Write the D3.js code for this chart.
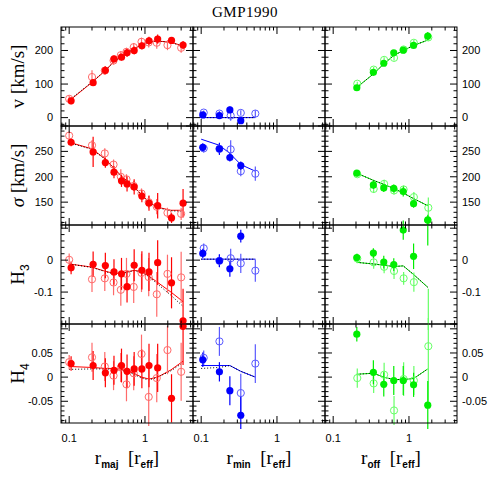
<!DOCTYPE html>
<html>
<head>
<meta charset="utf-8">
<script src="https://cdn.jsdelivr.net/npm/d3@7/dist/d3.min.js"></script>
<style>
  body { margin: 0; background: #fff; }
  text { fill: #000; }
</style>
</head>
<body>
<svg id="chart" width="491" height="491"></svg>
<script>
// ---- data ----
const title = 'GMP1990';

// major axis (red)
const rMajFilled = [0.106, 0.207, 0.30, 0.39, 0.49, 0.58, 0.72, 0.91, 1.13, 1.47, 2.24, 3.18];
const rMajOpen   = [0.100, 0.200, 0.295, 0.385, 0.48, 0.57, 0.71, 0.90, 1.12, 1.43, 1.98, 3.00];
const rMajModel  = [0.10, 0.20, 0.30, 0.40, 0.50, 0.60, 0.72, 0.90, 1.13, 1.47, 2.20, 3.18];

const vMajFilled    = [50, 104, 141, 175, 180, 193, 200, 214, 229, 234, 230, 216];
const vMajFilledErr = [10, 10, 12, 10, 10, 12, 12, 10, 12, 14, 10, 12];
const vMajOpen      = [56, 121, 140, 170, 186, 196, 210, 226, 224, 223, 216, 208];
const vMajOpenErr   = [10, 20, 12, 12, 12, 12, 12, 12, 15, 18, 15, 15];
const vMajModel     = [50, 105, 140, 170, 183, 195, 205, 218, 226, 228, 225, 213];
const vMajModelDot  = [52, 106, 141, 169, 182, 194, 204, 217, 225, 228, 224, 212];

const sMajFilled    = [268, 249, 228, 209, 192, 186, 180, 162, 148, 143, 119, 148];
const sMajFilledErr = [8, 30, 10, 12, 12, 15, 15, 12, 15, 25, 10, 28];
const sMajOpen      = [281, 262, 246, 224, 200, 195, 182, 167, 150, 141, 129, 127];
const sMajOpenErr   = [8, 10, 10, 10, 15, 10, 10, 10, 12, 15, 10, 12];
const sMajModel     = [268, 255, 235, 215, 200, 190, 180, 165, 150, 140, 134, 134];
const sMajModelDot  = [267, 254, 234, 214, 199, 189, 179, 164, 149, 139, 133, 132];

const h3MajFilled    = [-0.024, -0.013, -0.017, -0.037, -0.043, -0.083, -0.016, -0.032, -0.037, -0.008, -0.071, -0.19];
const h3MajFilledErr = [0.02, 0.04, 0.04, 0.04, 0.05, 0.05, 0.05, 0.06, 0.06, 0.07, 0.08, 0.1];
const h3MajOpen      = [0.001, -0.060, -0.057, -0.070, -0.093, -0.043, -0.084, -0.040, -0.053, -0.107, -0.043, -0.054];
const h3MajOpenErr   = [0.02, 0.04, 0.04, 0.04, 0.05, 0.05, 0.05, 0.06, 0.06, 0.07, 0.06, 0.08];
const h3MajModel     = [-0.012, -0.022, -0.035, -0.042, -0.040, -0.036, -0.032, -0.036, -0.050, -0.070, -0.100, -0.130];
const h3MajModelDot  = [-0.012, -0.023, -0.036, -0.044, -0.042, -0.037, -0.033, -0.037, -0.052, -0.075, -0.110, -0.145];

const h4MajFilled    = [0.028, 0.024, 0.009, 0.014, 0.024, 0.012, 0.017, 0.017, 0.024, 0.019, -0.044, 0.105];
const h4MajFilledErr = [0.015, 0.03, 0.03, 0.03, 0.035, 0.035, 0.035, 0.04, 0.045, 0.05, 0.05, 0.08];
const h4MajOpen      = [0.031, 0.041, 0.022, 0.003, 0.020, -0.015, 0.008, 0.048, -0.041, -0.002, 0.056, 0.011];
const h4MajOpenErr   = [0.015, 0.03, 0.03, 0.03, 0.03, 0.035, 0.035, 0.04, 0.06, 0.05, 0.05, 0.06];
const h4MajModel     = [0.022, 0.020, 0.018, 0.018, 0.016, 0.012, 0.008, 0.000, -0.004, 0.000, 0.015, 0.033];
const h4MajModelDot  = [0.016, 0.017, 0.017, 0.016, 0.014, 0.010, 0.006, -0.002, -0.006, 0.000, 0.013, 0.030];

// minor axis (blue)
const rMinFilled = [0.105, 0.174, 0.239, 0.333];
const rMinOpen   = [0.108, 0.174, 0.245, 0.333, 0.518];
const rMinModel  = [0.10, 0.174, 0.239, 0.333, 0.518];

const vMinFilled    = [8, 6, 23, -9];
const vMinFilledErr = [6, 8, 10, 8];
const vMinOpen      = [15, 12, 6, 14, 12];
const vMinOpenErr   = [6, 8, 15, 8, 10];
const vMinModel     = [0, 0, 0, 0, 0];

const sMinFilled    = [258, 255, 238, 222];
const sMinFilledErr = [8, 12, 8, 8];
const sMinOpen      = [256, 255, 254, 211, 206];
const sMinOpenErr   = [8, 10, 18, 10, 14];
const sMinModel     = [274, 262, 246, 224, 211];

const h3MinFilled    = [0.021, -0.002, -0.027, 0.075];
const h3MinFilledErr = [0.015, 0.02, 0.025, 0.02];
const h3MinOpen      = [0.037, -0.002, 0.006, -0.010, -0.033];
const h3MinOpenErr   = [0.015, 0.02, 0.03, 0.03, 0.035];
const h3MinModel     = [0.003, 0.003, 0.003, 0.003, 0.003];

const h4MinFilled    = [0.036, 0.011, -0.028, -0.079];
const h4MinFilledErr = [0.015, 0.02, 0.03, 0.04];
const h4MinOpen      = [0.040, 0.074, null, -0.033, 0.028];
const h4MinOpenErr   = [0.015, 0.03, 0, 0.04, 0.04];
const h4MinModel     = [0.024, 0.024, 0.024, 0.012, 0.000];
const h4MinModelDot  = [0.018, 0.020, 0.024, 0.012, 0.000];

// offset axis (green)
const rOffFilled = [0.205, 0.339, 0.465, 0.63, 0.84, 1.15, 1.77];
const rOffOpen   = [0.208, 0.342, 0.47, 0.635, 0.85, 1.16, 1.80];
const rOffModel  = [0.205, 0.339, 0.465, 0.63, 0.84, 1.15, 1.77];

const vOffFilled    = [89, 135, 162, 193, 201, 215, 243];
const vOffFilledErr = [6, 8, 8, 8, 8, 8, 12];
const vOffOpen      = [101, 143, 172, 178, 203, 223, 239];
const vOffOpenErr   = [6, 8, 8, 8, 8, 8, 10];
const vOffModel     = [90, 130, 160, 185, 200, 215, 231];

const sOffFilled    = [207, 184, 178, 177, 171, 147, 115];
const sOffFilledErr = [5, 8, 8, 8, 10, 8, 10];
const sOffOpen      = [205, 176, 186, 173, 175, 160, 139];
const sOffOpenErr   = [5, 8, 8, 8, 8, 10, 20];
const sOffModel     = [207, 193, 185, 177, 168, 157, 143];

const h3OffFilled    = [0.008, 0.022, -0.006, -0.014, 0.094, 0.012, 0.126];
const h3OffFilledErr = [0.012, 0.015, 0.02, 0.02, 0.03, 0.04, 0.08];
const h3OffOpen      = [0.005, -0.007, -0.021, -0.034, -0.057, -0.069, -0.25];
const h3OffOpenErr   = [0.015, 0.02, 0.02, 0.025, 0.02, 0.03, 0.16];
const h3OffModel     = [-0.007, -0.012, -0.016, -0.020, -0.018, -0.045, -0.085];

const h4OffFilled    = [0.089, 0.010, -0.015, -0.007, -0.007, -0.016, -0.058];
const h4OffFilledErr = [0.015, 0.025, 0.025, 0.03, 0.03, 0.025, 0.05];
const h4OffOpen      = [-0.002, -0.013, 0.005, -0.069, -0.004, -0.007, 0.064];
const h4OffOpenErr   = [0.02, 0.02, 0.025, 0.03, 0.035, 0.03, 0.115];
const h4OffModel     = [0.006, 0.008, 0.000, -0.005, -0.005, -0.003, 0.017];

// axes
const rowDomains = [[-25, 270], [105, 300], [-0.2, 0.11], [-0.095, 0.11]];
const rowMajorTicks = [[0, 100, 200], [150, 200, 250, 300], [-0.2, -0.1, 0, 0.1], [-0.05, 0, 0.05, 0.1]];
const rowMinorStep = [20, 10, 0.02, 0.01];
const rowTickLabels = [['0', '100', '200'], ['150', '200', '250'], ['-0.1', '0'], ['-0.05', '0', '0.05']];
const rowTickLabelValues = [[0, 100, 200], [150, 200, 250], [-0.1, 0], [-0.05, 0, 0.05]];
const xMajorTicks = [0.1, 1];
const xMinorTicks = [0.08, 0.09, 0.2, 0.3, 0.4, 0.5, 0.6, 0.7, 0.8, 0.9, 2, 3, 4];
const xTickLabels = ['0.1', '1'];

// ---- layout ----
const plotLeft = 61, plotTop = 27, colW = 132, rowH = 99;
const svg = d3.select('#chart');

const x = d3.scaleLog().domain([0.078, 4.3]).range([0, colW]);
const yScales = rowDomains.map((dom) => d3.scaleLinear().domain(dom).range([rowH, 0]));

const columns = [
  {
    color: '#ff0000', light: '#ff6a6a',
    rFilled: rMajFilled, rOpen: rMajOpen, rModel: rMajModel,
    rows: [
      {f: vMajFilled, fe: vMajFilledErr, o: vMajOpen, oe: vMajOpenErr, m: vMajModel, md: vMajModelDot},
      {f: sMajFilled, fe: sMajFilledErr, o: sMajOpen, oe: sMajOpenErr, m: sMajModel, md: sMajModelDot},
      {f: h3MajFilled, fe: h3MajFilledErr, o: h3MajOpen, oe: h3MajOpenErr, m: h3MajModel, md: h3MajModelDot},
      {f: h4MajFilled, fe: h4MajFilledErr, o: h4MajOpen, oe: h4MajOpenErr, m: h4MajModel, md: h4MajModelDot},
    ],
  },
  {
    color: '#0000ff', light: '#5a5aff',
    rFilled: rMinFilled, rOpen: rMinOpen, rModel: rMinModel,
    rows: [
      {f: vMinFilled, fe: vMinFilledErr, o: vMinOpen, oe: vMinOpenErr, m: vMinModel, md: vMinModel},
      {f: sMinFilled, fe: sMinFilledErr, o: sMinOpen, oe: sMinOpenErr, m: sMinModel, md: null},
      {f: h3MinFilled, fe: h3MinFilledErr, o: h3MinOpen, oe: h3MinOpenErr, m: h3MinModel, md: h3MinModel},
      {f: h4MinFilled, fe: h4MinFilledErr, o: h4MinOpen, oe: h4MinOpenErr, m: h4MinModel, md: h4MinModelDot},
    ],
  },
  {
    color: '#00ee00', light: '#66ff66',
    rFilled: rOffFilled, rOpen: rOffOpen, rModel: rOffModel,
    rows: [
      {f: vOffFilled, fe: vOffFilledErr, o: vOffOpen, oe: vOffOpenErr, m: vOffModel, md: vOffModel},
      {f: sOffFilled, fe: sOffFilledErr, o: sOffOpen, oe: sOffOpenErr, m: sOffModel, md: sOffModel},
      {f: h3OffFilled, fe: h3OffFilledErr, o: h3OffOpen, oe: h3OffOpenErr, m: h3OffModel, md: h3OffModel},
      {f: h4OffFilled, fe: h4OffFilledErr, o: h4OffOpen, oe: h4OffOpenErr, m: h4OffModel, md: h4OffModel},
    ],
  },
];

const toPoints = (rs, vs, es) => rs
  .map((r, i) => ({r: r, v: vs[i], e: es ? es[i] : 0}))
  .filter((d) => d.v !== null && d.v !== undefined);

columns.forEach((col, ci) => {
  col.rows.forEach((row, ri) => {
    const y = yScales[ri];
    const g = svg.append('g')
      .attr('class', 'panel')
      .attr('transform', `translate(${plotLeft + ci * colW},${plotTop + ri * rowH})`);

    const clipId = `clip-${ci}-${ri}`;
    g.append('clipPath').attr('id', clipId)
      .append('rect')
        .attr('x', 0).attr('y', -6)
        .attr('width', colW).attr('height', rowH + 12);

    const marks = g.append('g').attr('clip-path', `url(#${clipId})`);

    const line = d3.line().x((d) => x(d.r)).y((d) => y(d.v));

    // model curves
    marks.append('path')
      .datum(toPoints(col.rModel, row.m))
      .attr('d', line)
      .attr('fill', 'none')
      .attr('stroke', col.color)
      .attr('stroke-width', 1);
    if (row.md) {
      marks.append('path')
        .datum(toPoints(col.rModel, row.md))
        .attr('d', line)
        .attr('fill', 'none')
        .attr('stroke', '#000')
        .attr('stroke-width', 1)
        .attr('stroke-dasharray', '1,2');
    }

    const openPts = toPoints(col.rOpen, row.o, row.oe);
    const filledPts = toPoints(col.rFilled, row.f, row.fe);

    // error bars
    marks.selectAll('.err-open')
      .data(openPts)
      .enter().append('line')
        .attr('class', 'err-open')
        .attr('x1', (d) => x(d.r)).attr('x2', (d) => x(d.r))
        .attr('y1', (d) => y(d.v - d.e)).attr('y2', (d) => y(d.v + d.e))
        .attr('stroke', col.light)
        .attr('stroke-width', 1.2);

    marks.selectAll('.err-filled')
      .data(filledPts)
      .enter().append('line')
        .attr('class', 'err-filled')
        .attr('x1', (d) => x(d.r)).attr('x2', (d) => x(d.r))
        .attr('y1', (d) => y(d.v - d.e)).attr('y2', (d) => y(d.v + d.e))
        .attr('stroke', col.color)
        .attr('stroke-width', 1.2);

    // points
    marks.selectAll('.pt-open')
      .data(openPts)
      .enter().append('circle')
        .attr('class', 'pt-open')
        .attr('cx', (d) => x(d.r)).attr('cy', (d) => y(d.v))
        .attr('r', 3.6)
        .attr('fill', 'none')
        .attr('stroke', col.light)
        .attr('stroke-width', 1);

    marks.selectAll('.pt-filled')
      .data(filledPts)
      .enter().append('circle')
        .attr('class', 'pt-filled')
        .attr('cx', (d) => x(d.r)).attr('cy', (d) => y(d.v))
        .attr('r', 3.6)
        .attr('fill', col.color);

    // ticks, inward on all four sides
    const [y0, y1] = rowDomains[ri];
    const minorY = d3.range(Math.ceil(y0 / rowMinorStep[ri]), Math.floor(y1 / rowMinorStep[ri]) + 1)
      .map((k) => +(k * rowMinorStep[ri]).toFixed(4));
    const ticks = g.append('g').attr('stroke', '#000').attr('stroke-width', 1);

    minorY.forEach((v) => {
      const isMajor = rowMajorTicks[ri].some((m) => Math.abs(m - v) < 1e-6);
      const len = isMajor ? 7 : 3.5;
      ticks.append('line').attr('x1', 0).attr('x2', len).attr('y1', y(v)).attr('y2', y(v));
      ticks.append('line').attr('x1', colW).attr('x2', colW - len).attr('y1', y(v)).attr('y2', y(v));
    });
    xMajorTicks.concat(xMinorTicks).forEach((r) => {
      const len = xMajorTicks.includes(r) ? 7 : 3.5;
      ticks.append('line').attr('x1', x(r)).attr('x2', x(r)).attr('y1', 0).attr('y2', len);
      ticks.append('line').attr('x1', x(r)).attr('x2', x(r)).attr('y1', rowH).attr('y2', rowH - len);
    });

    g.append('rect')
      .attr('width', colW).attr('height', rowH)
      .attr('fill', 'none')
      .attr('stroke', '#000')
      .attr('stroke-width', 1);

    // y tick labels: left column on the left, right column on the right
    if (ci === 0 || ci === 2) {
      g.selectAll('.ylab')
        .data(rowTickLabelValues[ri])
        .enter().append('text')
          .attr('class', 'ylab')
          .attr('x', ci === 0 ? -8 : colW + 5)
          .attr('y', (d) => y(d))
          .attr('dy', '0.35em')
          .attr('text-anchor', ci === 0 ? 'end' : 'start')
          .attr('font-family', 'Liberation Sans, Arial, sans-serif')
          .attr('font-size', 11)
          .text((d, i) => rowTickLabels[ri][i]);
    }

    // x tick labels under the bottom row
    if (ri === 3) {
      g.selectAll('.xlab')
        .data(xMajorTicks)
        .enter().append('text')
          .attr('class', 'xlab')
          .attr('x', (d) => x(d))
          .attr('y', rowH + 19)
          .attr('text-anchor', 'middle')
          .attr('font-family', 'Liberation Sans, Arial, sans-serif')
          .attr('font-size', 11)
          .text((d, i) => xTickLabels[i]);
    }
  });
});

// ---- titles ----
const serif = 'Liberation Serif, Times New Roman, serif';
const sans = 'Liberation Sans, Arial, sans-serif';

svg.append('text')
  .attr('x', 245).attr('y', 17)
  .attr('text-anchor', 'middle')
  .attr('font-family', serif)
  .attr('font-size', 15)
  .attr('letter-spacing', 0.5)
  .text(title);

const yTitles = [
  {main: 'v', sub: null, rest: ' [km/s]'},
  {main: 'σ', sub: null, rest: ' [km/s]', italic: true},
  {main: 'H', sub: '3', rest: ''},
  {main: 'H', sub: '4', rest: ''},
];
yTitles.forEach((t, ri) => {
  const cy = plotTop + ri * rowH + rowH / 2;
  const txt = svg.append('text')
    .attr('transform', `translate(24,${cy}) rotate(-90)`)
    .attr('text-anchor', 'middle')
    .attr('font-family', serif)
    .attr('font-size', 19)
    .attr('xml:space', 'preserve');
  txt.append('tspan').attr('font-style', t.italic ? 'italic' : null).text(t.main);
  if (t.sub) {
    txt.append('tspan').attr('font-family', sans).attr('font-size', 12)
      .attr('dy', 5).text(t.sub);
  }
  if (t.rest) {
    txt.append('tspan').text(t.rest);
  }
});

const xTitles = ['maj', 'min', 'off'];
xTitles.forEach((s, ci) => {
  const txt = svg.append('text')
    .attr('x', plotLeft + ci * colW + colW / 2)
    .attr('y', 464)
    .attr('text-anchor', 'middle')
    .attr('font-family', serif)
    .attr('font-size', 19)
    .attr('xml:space', 'preserve');
  txt.append('tspan').text('r');
  txt.append('tspan').attr('font-family', sans).attr('font-size', 10).attr('font-weight', 'bold')
    .attr('dy', 4).text(s);
  txt.append('tspan').attr('dy', -4).text('  [r');
  txt.append('tspan').attr('font-family', sans).attr('font-size', 10).attr('font-weight', 'bold')
    .attr('dy', 4).text('eff');
  txt.append('tspan').attr('dy', -4).text(']');
});
</script>
</body>
</html>
